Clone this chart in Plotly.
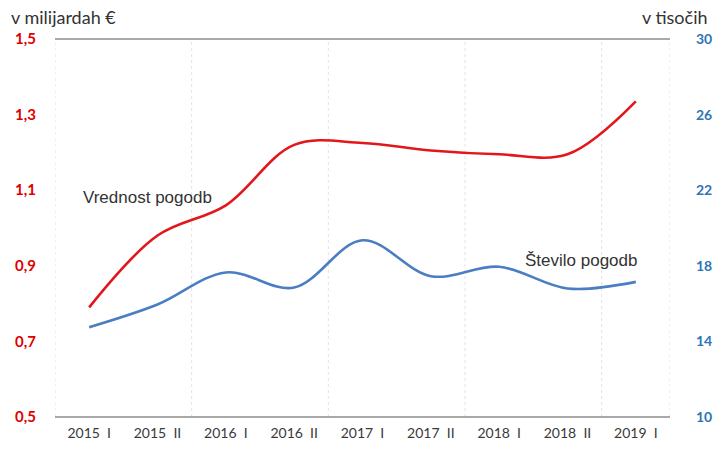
import plotly.graph_objects as go

categories = ["2015\u00a0\u00a0I", "2015\u00a0\u00a0II", "2016\u00a0\u00a0I", "2016\u00a0\u00a0II", "2017\u00a0\u00a0I",
              "2017\u00a0\u00a0II", "2018\u00a0\u00a0I", "2018\u00a0\u00a0II", "2019\u00a0\u00a0I"]
vrednost = [0.79, 0.98, 1.06, 1.22, 1.225, 1.205, 1.195, 1.195, 1.335]
stevilo = [14.75, 15.95, 17.65, 16.85, 19.35, 17.45, 17.95, 16.8, 17.15]
left_ticks = [0.5, 0.7, 0.9, 1.1, 1.3, 1.5]
right_ticks = [10, 14, 18, 22, 26, 30]

xs = list(range(len(categories)))

fig = go.Figure()
fig.add_trace(go.Scatter(x=xs, y=vrednost, mode="lines", name="Vrednost pogodb",
                         line=dict(color="#E3161B", width=2.6, shape="spline", smoothing=1.0),
                         yaxis="y"))
fig.add_trace(go.Scatter(x=xs, y=stevilo, mode="lines", name="Število pogodb",
                         line=dict(color="#4A7DC2", width=2.6, shape="spline", smoothing=1.0),
                         yaxis="y2"))

shapes = []
# year boundary grid lines
for b in [-0.5, 1.5, 3.5, 5.5, 7.5, 8.5]:
    shapes.append(dict(type="line", xref="x", yref="paper", x0=b, x1=b, y0=0, y1=1,
                       line=dict(color="#E2E2E2", width=1, dash="dot"), layer="below"))
for yy in [0, 1]:
    shapes.append(dict(type="line", xref="paper", yref="paper", x0=0, x1=1, y0=yy, y1=yy,
                       line=dict(color="#8C8C8C", width=1.5), layer="below"))

fig.update_layout(
    width=724, height=453,
    margin=dict(l=55, r=31, t=39, b=29),
    paper_bgcolor="white", plot_bgcolor="white",
    showlegend=False,
    separators=", ",
    font=dict(family="Lato, Liberation Sans, sans-serif", size=13, color="#333333"),
    xaxis=dict(tickvals=xs, ticktext=categories, range=[-0.5, 8.5],
               showgrid=False, zeroline=False, showline=False, ticks="",
               ticklabelstandoff=6,
               tickfont=dict(family="Lato, sans-serif", size=14, color="#3A3A3A")),
    yaxis=dict(range=[0.5, 1.5], tickvals=left_ticks, tickformat=".1f",
               showgrid=False, zeroline=False, showline=False, ticks="",
               ticklabelstandoff=18,
               tickfont=dict(family="Lato, sans-serif", size=15, color="#E00000", weight="bold")),
    yaxis2=dict(range=[10, 30], tickvals=right_ticks, overlaying="y", side="right",
                showgrid=False, zeroline=False, showline=False, ticks="",
                ticklabelstandoff=25,
                tickfont=dict(family="Lato, sans-serif", size=14, color="#2E75B6", weight="bold")),
    shapes=shapes,
    annotations=[
        dict(text="v milijardah €", xref="paper", yref="paper", x=(7 - 55) / 638, y=(424 - 17) / 385,
             xanchor="left", yanchor="middle", showarrow=False,
             font=dict(family="Lato, sans-serif", size=18, color="#333333")),
        dict(text="v tisočih", xref="paper", yref="paper", x=(662 - 55) / 638, y=(424 - 17) / 385,
             xanchor="left", yanchor="middle", showarrow=False,
             font=dict(family="Lato, sans-serif", size=18, color="#333333")),
        dict(text="Vrednost pogodb", xref="x", yref="y", x=0.85, y=1.08,
             showarrow=False, font=dict(family="Liberation Sans, Arial, sans-serif", size=17, color="#333333")),
        dict(text="Število pogodb", xref="x", yref="y2", x=7.2, y=18.28,
             showarrow=False, font=dict(family="Liberation Sans, Arial, sans-serif", size=17, color="#333333")),
    ],
)

fig.write_html("out.html")
